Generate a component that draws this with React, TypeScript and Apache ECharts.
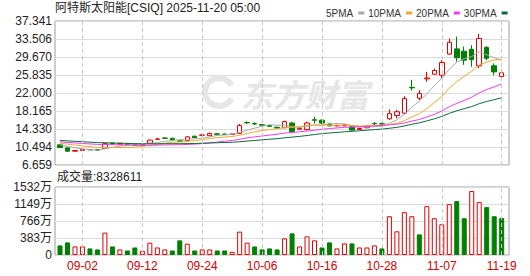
import React, { useEffect, useRef } from 'react';
import * as echarts from 'echarts';

const dates = [
  '08-27', '08-28', '08-29', '09-02', '09-03', '09-04', '09-05', '09-08', '09-09', '09-10',
  '09-11', '09-12', '09-15', '09-16', '09-17', '09-18', '09-19', '09-22', '09-23', '09-24',
  '09-25', '09-26', '09-29', '09-30', '10-01', '10-02', '10-03', '10-06', '10-07', '10-08',
  '10-09', '10-10', '10-13', '10-14', '10-15', '10-16', '10-17', '10-20', '10-21', '10-22',
  '10-23', '10-24', '10-27', '10-28', '10-29', '10-30', '10-31', '11-03', '11-04', '11-05',
  '11-06', '11-07', '11-10', '11-11', '11-12', '11-13', '11-14', '11-17', '11-18', '11-19',
];

const opens = [
  10.95, 10.3, 9.6, 9.75, 9.95, 9.9, 10.2, 11.3, 11.1, 11.2,
  11.0, 10.9, 11.3, 12.15, 12.4, 12.35, 11.8, 11.9, 12.8, 13.0,
  12.9, 13.3, 13.25, 13.15, 13.4, 15.7, 15.5, 15.25, 15.05, 14.7,
  14.6, 15.6, 14.3, 14.2, 16.3, 16.2, 15.4, 15.0, 15.0, 14.8,
  14.25, 14.6, 15.5, 15.45, 16.5, 17.2, 17.7, 23.2, 20.9, 25.0,
  26.0, 25.8, 30.3, 31.4, 30.9, 31.3, 27.8, 31.7, 27.8, 25.5,
];

const closes = [
  10.4, 9.6, 9.75, 9.95, 9.9, 9.85, 11.2, 11.15, 11.25, 11.0,
  10.9, 11.1, 11.95, 12.2, 12.35, 12.0, 11.7, 12.65, 12.5, 13.05,
  13.4, 13.2, 13.15, 13.25, 15.1, 15.65, 15.4, 15.15, 14.9, 14.55,
  15.9, 13.8, 14.5, 15.6, 16.2, 15.6, 15.0, 15.1, 15.2, 14.1,
  14.45, 14.9, 15.45, 15.4, 17.6, 18.0, 20.8, 23.1, 21.9, 25.2,
  26.8, 28.5, 32.8, 29.5, 29.0, 29.1, 33.6, 29.4, 26.5, 26.3,
];

const highs = [
  11.05, 10.4, 9.85, 10.1, 10.05, 9.95, 11.35, 11.45, 11.35, 11.3,
  11.1, 11.2, 12.05, 12.45, 12.6, 12.45, 11.9, 12.8, 12.9, 13.25,
  13.55, 13.4, 13.35, 13.35, 15.4, 15.95, 15.75, 15.35, 15.15, 14.85,
  16.1, 15.9, 14.7, 15.9, 16.9, 16.4, 15.5, 15.25, 15.4, 14.9,
  14.6, 15.05, 15.8, 15.7, 18.5, 18.4, 21.3, 24.8, 22.6, 26.5,
  27.2, 29.0, 33.6, 34.0, 31.9, 32.2, 34.6, 32.0, 28.3, 27.0,
];

const lows = [
  10.3, 9.5, 9.55, 9.6, 9.8, 9.75, 10.1, 11.05, 11.0, 10.9,
  10.8, 10.85, 11.2, 12.0, 12.2, 11.95, 11.6, 11.8, 12.4, 12.8,
  12.85, 13.1, 13.05, 13.05, 13.3, 15.4, 15.2, 15.05, 14.75, 14.4,
  14.5, 13.4, 14.1, 14.0, 15.5, 15.4, 14.9, 14.85, 14.9, 14.0,
  14.15, 14.5, 15.1, 15.1, 16.3, 16.6, 17.5, 22.5, 20.5, 24.4,
  25.9, 25.2, 30.1, 28.7, 28.0, 27.6, 27.3, 29.0, 25.8, 24.9,
];

// volume in 万 (10,000 shares)
const volumes = [
  216, 284, 193, 193, 148, 125, 504, 193, 125, 102,
  170, 95, 277, 170, 125, 102, 330, 254, 102, 125,
  125, 102, 102, 72, 526, 277, 193, 125, 148, 125,
  375, 488, 193, 420, 330, 170, 284, 148, 261, 261,
  170, 170, 216, 148, 874, 534, 965, 874, 465, 1100,
  829, 692, 1146, 1214, 829, 1441, 1192, 1078, 874, 832.8611,
];

// closes of the 29 sessions before the window (needed for the moving averages at the left edge)
const priorCloses = [
  12.8, 12.6, 12.4, 12.7, 12.5, 12.3, 12.6, 12.4, 12.2, 12.5,
  12.3, 12.1, 11.8, 12.0, 11.9, 11.7, 12.0, 11.8, 11.6, 11.8,
  11.5, 11.7, 11.8, 11.6, 11.5, 11.4, 11.2, 11.0, 10.9,
];

const priceTickLabels = ['6.659', '10.494', '14.330', '18.165', '22.000', '25.835', '29.670', '33.506', '37.341'];
const volumeTickLabels = ['0', '383万', '766万', '1149万', '1532万'];
const priceMin = 6.659;
const priceMax = 37.341;
const volumeMax = 1532;
const dateLabelIndices = [3, 11, 19, 27, 35, 43, 51, 59];
const maPeriods = [5, 10, 20, 30];
const maNames = ['5PMA', '10PMA', '20PMA', '30PMA'];
const maColors = ['#a9a9a9', '#f0a830', '#f03cf0', '#0d6b3a'];

const titleText = '阿特斯太阳能[CSIQ] 2025-11-20 05:00';
const volumeTitle = '成交量';
const watermarkText = '东方财富';

const RED = '#e00000';
const GREEN = '#008000';
const FONT = '"Liberation Sans", "Noto Sans CJK SC", sans-serif';

function movingAverage(n: number): number[] {
  const all = priorCloses.concat(closes);
  const off = priorCloses.length;
  return closes.map((_, i) => {
    let s = 0;
    for (let k = 0; k < n; k++) s += all[off + i - k];
    return +(s / n).toFixed(3);
  });
}

export default function App() {
  const ref = useRef<HTMLDivElement>(null);

  useEffect(() => {
    if (!ref.current) return;
    const chart = echarts.init(ref.current, null, { renderer: 'svg' });

    const candleData = dates.map((_, i) => [opens[i], closes[i], lows[i], highs[i]]);
    const volData = volumes.map((v, i) => {
      const prev = i === 0 ? priorCloses[priorCloses.length - 1] : closes[i - 1];
      const up = closes[i] >= prev;
      return {
        value: v,
        itemStyle: {
          color: up ? '#ffffff' : GREEN,
          borderColor: up ? RED : GREEN,
          borderWidth: 1,
        },
      };
    });
    const labelSet = new Set(dateLabelIndices);
    const vLines = dateLabelIndices.map((i) => ({ xAxis: dates[i] }));
    const markLineCfg = {
      silent: true,
      symbol: 'none',
      label: { show: false },
      lineStyle: { color: '#c8c8c8', type: [4, 3], width: 1 },
      data: vLines,
    };

    const dataLeft = 56.257;
    const dataWidth = 449.16;

    const option: any = {
      animation: false,
      backgroundColor: '#ffffff',
      textStyle: { fontFamily: FONT },
      legend: {
        data: maNames.map((n) => ({ name: n, icon: 'rect' })),
        left: 321,
        top: 3,
        align: 'right',
        itemWidth: 6,
        itemHeight: 3,
        itemGap: 4,
        textStyle: { fontSize: 10, color: '#333', fontFamily: FONT },
        selectedMode: false,
      },
      grid: [
        { left: 55, top: 21, width: 454, height: 144, show: true, borderColor: '#9c9c9c', borderWidth: 1, backgroundColor: 'transparent' },
        { left: dataLeft, top: 21, width: dataWidth, height: 144 },
        { left: 55, top: 187, width: 454, height: 68, show: true, borderColor: '#9c9c9c', borderWidth: 1, backgroundColor: 'transparent' },
        { left: dataLeft, top: 187, width: dataWidth, height: 68 },
      ],
      xAxis: [
        { gridIndex: 0, type: 'value', min: 0, max: 1, show: false },
        { gridIndex: 1, type: 'category', data: dates, show: false, boundaryGap: true },
        { gridIndex: 2, type: 'value', min: 0, max: 1, show: false },
        {
          gridIndex: 3,
          type: 'category',
          data: dates,
          boundaryGap: true,
          axisLine: { show: false },
          axisTick: { show: false },
          splitLine: { show: false },
          axisLabel: {
            interval: (idx: number) => labelSet.has(idx),
            color: '#d00000',
            fontSize: 12,
            fontFamily: FONT,
            margin: 5,
          },
        },
      ],
      yAxis: [
        {
          gridIndex: 0,
          type: 'value',
          min: 0,
          max: priceTickLabels.length - 1,
          interval: 1,
          axisLine: { show: false },
          axisTick: { show: false },
          splitLine: { show: true, lineStyle: { color: '#dcdcdc', width: 1 } },
          axisLabel: {
            formatter: (v: number) => priceTickLabels[Math.round(v)],
            color: '#222',
            fontSize: 12,
            fontFamily: FONT,
            margin: 3,
          },
        },
        { gridIndex: 1, type: 'value', min: priceMin, max: priceMax, show: false, splitLine: { show: false } },
        {
          gridIndex: 2,
          type: 'value',
          min: 0,
          max: volumeTickLabels.length - 1,
          interval: 1,
          axisLine: { show: false },
          axisTick: { show: false },
          splitLine: { show: true, lineStyle: { color: '#dcdcdc', width: 1 } },
          axisLabel: {
            formatter: (v: number) => volumeTickLabels[Math.round(v)],
            color: '#222',
            fontSize: 12,
            fontFamily: FONT,
            margin: 3,
          },
        },
        { gridIndex: 3, type: 'value', min: 0, max: volumeMax, show: false, splitLine: { show: false } },
      ],
      graphic: [
        {
          type: 'arc',
          silent: true,
          z: 1,
          shape: { cx: 219, cy: 92, r: 14, startAngle: Math.PI * 0.15, endAngle: Math.PI * 1.85 },
          style: { stroke: '#e6e6e6', lineWidth: 6, fill: 'none' },
        },
        {
          type: 'text',
          silent: true,
          z: 1,
          x: 241,
          y: 93,
          style: {
            text: watermarkText,
            fill: '#e6e6e6',
            fontSize: 32,
            fontWeight: 'bold',
            fontStyle: 'italic',
            fontFamily: '"Noto Sans CJK SC", sans-serif',
            verticalAlign: 'middle',
            align: 'left',
          },
        },
        {
          type: 'text',
          x: 55,
          y: 8,
          style: {
            text: titleText,
            fill: '#222',
            fontSize: 12,
            fontFamily: FONT,
            verticalAlign: 'middle',
            align: 'left',
          },
        },
        {
          type: 'text',
          x: 57,
          y: 177,
          style: {
            text: volumeTitle + ':' + Math.round(volumes[volumes.length - 1] * 10000),
            fill: '#222',
            fontSize: 12,
            fontFamily: FONT,
            verticalAlign: 'middle',
            align: 'left',
          },
        },
      ],
      series: [
        {
          type: 'candlestick',
          name: 'K',
          xAxisIndex: 1,
          yAxisIndex: 1,
          data: candleData,
          barWidth: 5,
          itemStyle: {
            color: '#ffffff',
            color0: GREEN,
            borderColor: RED,
            borderColor0: GREEN,
            borderWidth: 1,
          },
          markLine: markLineCfg,
          z: 3,
        },
        ...maPeriods.map((p, k) => ({
          type: 'line',
          name: maNames[k],
          xAxisIndex: 1,
          yAxisIndex: 1,
          data: movingAverage(p),
          symbol: 'none',
          showSymbol: false,
          color: maColors[k],
          itemStyle: { color: maColors[k] },
          lineStyle: { color: maColors[k], width: 1 },
          z: 4,
        })),
        {
          type: 'bar',
          name: 'VOL',
          xAxisIndex: 3,
          yAxisIndex: 3,
          data: volData,
          barWidth: 5,
          markLine: markLineCfg,
          z: 3,
        },
      ],
    };

    chart.setOption(option);
    return () => chart.dispose();
  }, []);

  return (
    <div
      ref={ref}
      style={{ position: 'fixed', left: 0, top: 0, width: 530, height: 276, background: '#fff' }}
    />
  );
}
